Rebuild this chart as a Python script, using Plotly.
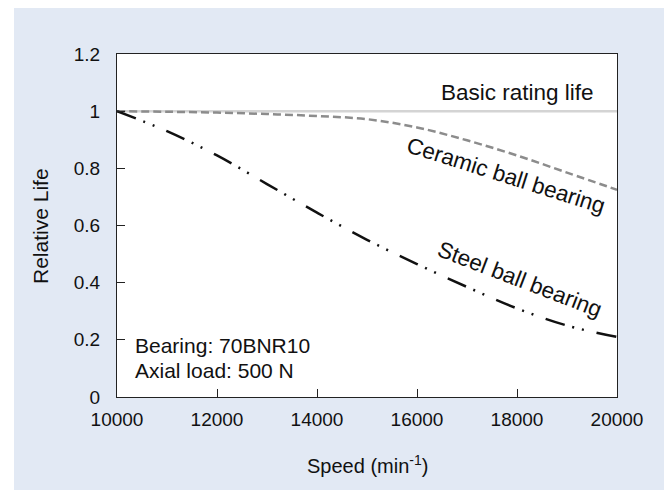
import plotly.graph_objects as go

speed = [10000, 11000, 12000, 13000, 14000, 15000, 16000, 17000, 18000, 19000, 20000]
ceramic = [1.0, 0.998, 0.995, 0.99, 0.983, 0.972, 0.943, 0.898, 0.845, 0.785, 0.725]
steel = [1.0, 0.93, 0.845, 0.745, 0.645, 0.55, 0.465, 0.385, 0.31, 0.25, 0.21]
basic_x = [10000, 20000]
basic_y = [1.0, 1.0]

x_ticks = [10000, 12000, 14000, 16000, 18000, 20000]
x_ticktext = ["10000", "12000", "14000", "16000", "18000", "20000"]
y_ticks = [0, 0.2, 0.4, 0.6, 0.8, 1.0, 1.2]
y_ticktext = ["0", "0.2", "0.4", "0.6", "0.8", "1", "1.2"]

FONT = "Liberation Sans, Arial, Helvetica, sans-serif"
OFF = 8  # page body margin
W, H = 672, 490
L, T = 117 - OFF, 54 - OFF
R = W - (617 - OFF)
B = H - (397 - OFF)
pw, ph = W - L - R, H - T - B


def px(x):
    return (x - OFF - L) / pw


def py(y):
    return (H - B - (y - OFF)) / ph


fig = go.Figure()
fig.add_trace(go.Scatter(x=basic_x, y=basic_y, mode="lines",
                         line=dict(color="#d4d4d4", width=2.5), hoverinfo="skip"))
fig.add_trace(go.Scatter(x=speed, y=ceramic, mode="lines", line_shape="spline",
                         line=dict(color="#8c8c8c", width=2.5, dash="8px,4px"), hoverinfo="skip"))
fig.add_trace(go.Scatter(x=speed, y=steel, mode="lines", line_shape="spline",
                         line=dict(color="#111111", width=2.5, dash="20px,8px,2px,8px,2px,13px"),
                         hoverinfo="skip"))

shapes = [
    dict(type="rect", xref="paper", yref="paper", x0=px(14), x1=px(665), y0=py(510), y1=py(4),
         fillcolor="#e2e9f4", line=dict(width=0), layer="below"),
    dict(type="rect", xref="paper", yref="paper", x0=0, x1=1, y0=0, y1=1,
         fillcolor="white", line=dict(width=0), layer="below"),
]

ann = [
    dict(text="Basic rating life", x=px(596), y=py(93), xanchor="right", yanchor="middle",
         font=dict(size=22.5)),
    dict(text="Ceramic ball bearing", x=px(506), y=py(175), xanchor="center", yanchor="middle",
         textangle=17.5, font=dict(size=22.5)),
    dict(text="Steel ball bearing", x=px(520), y=py(279), xanchor="center", yanchor="middle",
         textangle=21, font=dict(size=22.5)),
    dict(text="Bearing: 70BNR10", x=px(133), y=py(345), xanchor="left", yanchor="middle",
         font=dict(size=21)),
    dict(text="Axial load: 500 N", x=px(133), y=py(370), xanchor="left", yanchor="middle",
         font=dict(size=21)),
    dict(text="Relative Life", x=px(40), y=py(226), xanchor="center", yanchor="middle",
         textangle=-90, font=dict(size=21)),
    dict(text="Speed (min<sup>-1</sup>)", x=px(367), y=py(464), xanchor="center", yanchor="middle",
         font=dict(size=20)),
]
for a in ann:
    a.update(xref="paper", yref="paper", showarrow=False)
    a["font"].update(color="#111111", family=FONT)

axis_common = dict(showgrid=False, zeroline=False, showline=True, linecolor="#222222", linewidth=1,
                   mirror=True, ticks="inside", ticklen=8, tickcolor="#222222", tickwidth=1,
                   tickfont=dict(size=19, color="#111111", family=FONT))

fig.update_layout(
    width=W, height=H, margin=dict(l=L, r=R, t=T, b=B, autoexpand=False),
    paper_bgcolor="white", plot_bgcolor="white", showlegend=False,
    xaxis=dict(range=[10000, 20000], tickvals=x_ticks, ticktext=x_ticktext,
               ticklabelstandoff=5, **axis_common),
    yaxis=dict(range=[0, 1.2], tickvals=y_ticks, ticktext=y_ticktext,
               ticklabelstandoff=12, **axis_common),
    shapes=shapes, annotations=ann,
    font=dict(family=FONT),
)

fig.write_html("out.html", config={"displayModeBar": False})
